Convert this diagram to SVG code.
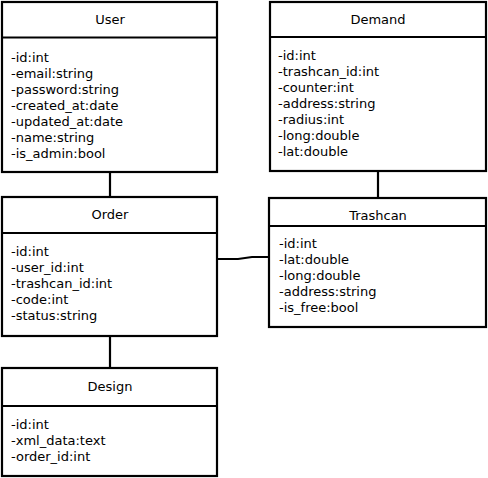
<svg xmlns="http://www.w3.org/2000/svg" width="488" height="478" viewBox="0 0 488 478">
<style>
.box{fill:#fff;stroke:#000;stroke-width:2.2}
.sep{stroke:#000;stroke-width:2.2}
.conn{fill:none;stroke:#000;stroke-width:2.2}
text{font-family:"DejaVu Sans",sans-serif;font-size:13px;fill:#000}
.t{text-anchor:middle}
</style>
<rect width="488" height="478" fill="#fff"/>
<g id="connectors">
<path class="conn" d="M110 172V197"/>
<path class="conn" d="M110 336V368"/>
<path class="conn" d="M378 171V198"/>
<path class="conn" d="M217 259H238L252 257H269"/>
</g>
<g id="user">
<rect class="box" x="2" y="2" width="215" height="170"/>
<line class="sep" x1="2" y1="37.5" x2="217" y2="37.5"/>
<text class="t" x="110" y="24">User</text>
<text x="11" y="62">-id:int</text>
<text x="11" y="78">-email:string</text>
<text x="11" y="94">-password:string</text>
<text x="11" y="110">-created_at:date</text>
<text x="11" y="126">-updated_at:date</text>
<text x="11" y="142">-name:string</text>
<text x="11" y="158">-is_admin:bool</text>
</g>
<g id="demand">
<rect class="box" x="270" y="2" width="216" height="169"/>
<line class="sep" x1="270" y1="37" x2="486" y2="37"/>
<text class="t" x="378" y="24">Demand</text>
<text x="278" y="60">-id:int</text>
<text x="278" y="76">-trashcan_id:int</text>
<text x="278" y="92">-counter:int</text>
<text x="278" y="108">-address:string</text>
<text x="278" y="124">-radius:int</text>
<text x="278" y="140">-long:double</text>
<text x="278" y="156">-lat:double</text>
</g>
<g id="order">
<rect class="box" x="2" y="197" width="215" height="139"/>
<line class="sep" x1="2" y1="233" x2="217" y2="233"/>
<text class="t" x="110" y="219">Order</text>
<text x="11" y="256">-id:int</text>
<text x="11" y="272">-user_id:int</text>
<text x="11" y="288">-trashcan_id:int</text>
<text x="11" y="304">-code:int</text>
<text x="11" y="320">-status:string</text>
</g>
<g id="trashcan">
<rect class="box" x="269" y="198" width="217" height="129"/>
<line class="sep" x1="269" y1="226" x2="486" y2="226"/>
<text class="t" x="378" y="220">Trashcan</text>
<text x="279" y="248">-id:int</text>
<text x="279" y="264">-lat:double</text>
<text x="279" y="280">-long:double</text>
<text x="279" y="296">-address:string</text>
<text x="279" y="312">-is_free:bool</text>
</g>
<g id="design">
<rect class="box" x="2" y="368" width="215" height="108"/>
<line class="sep" x1="2" y1="406" x2="217" y2="406"/>
<text class="t" x="110" y="391">Design</text>
<text x="11" y="429">-id:int</text>
<text x="11" y="445">-xml_data:text</text>
<text x="11" y="461">-order_id:int</text>
</g>
</svg>
